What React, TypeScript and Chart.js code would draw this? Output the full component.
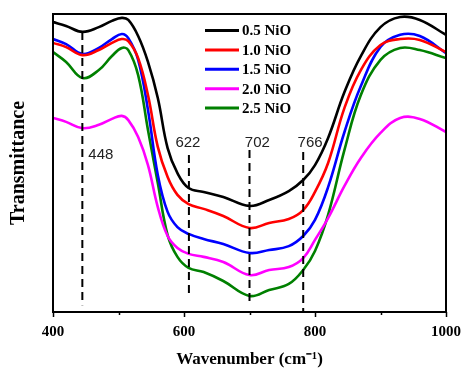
import { useEffect, useRef } from "react";
import { Chart, registerables } from "chart.js";

Chart.register(...registerables);

// ---- data ----
const wavenumbers = [400, 420, 445, 470, 490, 505, 515, 530, 545, 560, 575, 590, 607, 630, 660, 700, 730, 760, 782, 800, 820, 845, 870, 900, 930, 960, 1000];
const seriesLabels = ["0.5 NiO", "1.0 NiO", "1.5 NiO", "2.0 NiO", "2.5 NiO"];
const seriesColors = ["#000000", "#ff0000", "#0000ff", "#ff00ff", "#008000"];
const t05 = [97.3, 96.0, 94.0, 95.6, 97.7, 98.7, 98.0, 92.6, 83.9, 71.8, 55.0, 46.6, 41.6, 40.3, 38.6, 35.6, 37.6, 40.6, 44.3, 49.3, 58.4, 73.8, 85.9, 95.6, 99.0, 98.0, 93.0];
const t10 = [90.3, 88.9, 86.2, 87.9, 90.3, 91.6, 90.9, 85.2, 72.8, 55.4, 45.3, 39.3, 36.2, 34.6, 32.2, 28.2, 29.9, 31.2, 34.2, 40.3, 50.0, 68.5, 81.2, 89.6, 91.6, 91.3, 87.2];
const t15 = [91.6, 89.9, 86.6, 88.6, 91.6, 93.3, 91.9, 84.6, 67.8, 46.0, 33.6, 28.5, 26.2, 24.5, 22.8, 19.8, 20.8, 22.1, 25.5, 30.9, 41.9, 60.4, 75.8, 88.9, 93.0, 92.6, 86.9];
const t20 = [65.1, 63.8, 61.7, 62.8, 64.8, 65.8, 64.4, 58.7, 49.3, 35.2, 25.5, 21.5, 19.5, 18.5, 16.8, 12.4, 14.1, 15.1, 18.1, 24.2, 31.5, 42.3, 51.7, 60.1, 65.1, 64.8, 60.4];
const t25 = [87.2, 83.9, 78.5, 81.2, 85.9, 88.6, 87.9, 79.5, 61.1, 43.3, 25.8, 18.5, 14.8, 13.4, 10.4, 5.4, 7.4, 9.4, 14.1, 20.5, 32.6, 54.4, 72.8, 84.6, 88.6, 87.9, 85.2];
const seriesValues = [t05, t10, t15, t20, t25];

const peakPositions = [444.8, 607.5, 700, 782];
const peakTop = [94.0, 52.7, 54.4, 53.7];
const peakBottom = [2.3, 5.7, 2.3, 0.3];
const peakLabels = ["448", "622", "702", "766"];
const peakLabelX = [473, 606, 712, 792.5];
const peakLabelY = [52.7, 56.7, 56.7, 56.7];

const xMin = 400;
const xMax = 1000;
const xMajorStep = 200;
const xMinorStep = 100;

const SERIF = "'Liberation Serif', 'Times New Roman', serif";
const SANS = "'Liberation Sans', Arial, sans-serif";

const framePlugin = {
  id: "frameTicks",
  afterDraw(chart: any) {
    const { ctx, chartArea } = chart;
    const xs = chart.scales.x;
    ctx.save();
    ctx.strokeStyle = "#000";
    ctx.lineWidth = 2;
    ctx.strokeRect(chartArea.left, chartArea.top, chartArea.right - chartArea.left, chartArea.bottom - chartArea.top);
    ctx.lineWidth = 1.5;
    for (let v = xMin; v <= xMax; v += xMinorStep) {
      const px = Math.round(xs.getPixelForValue(v)) + 0.5;
      const len = v % xMajorStep === 0 ? 5 : 3;
      ctx.beginPath();
      ctx.moveTo(px, chartArea.bottom);
      ctx.lineTo(px, chartArea.bottom + len);
      ctx.stroke();
    }
    ctx.restore();
  },
};

const annotationPlugin = {
  id: "peakLabels",
  afterDatasetsDraw(chart: any) {
    const { ctx } = chart;
    const xs = chart.scales.x;
    const ys = chart.scales.y;
    ctx.save();
    ctx.fillStyle = "#222";
    ctx.font = `15px ${SANS}`;
    ctx.textAlign = "center";
    ctx.textBaseline = "middle";
    peakLabels.forEach((t, i) => {
      ctx.fillText(t, xs.getPixelForValue(peakLabelX[i]), ys.getPixelForValue(peakLabelY[i]));
    });
    ctx.restore();
  },
};

const legendPlugin = {
  id: "customLegend",
  afterDraw(chart: any) {
    const { ctx } = chart;
    ctx.save();
    ctx.font = `bold 15px ${SERIF}`;
    ctx.textAlign = "left";
    ctx.textBaseline = "middle";
    seriesLabels.forEach((label, i) => {
      const y = 30.5 + i * 19.4;
      ctx.strokeStyle = seriesColors[i];
      ctx.lineWidth = 3;
      ctx.beginPath();
      ctx.moveTo(205, y);
      ctx.lineTo(239, y);
      ctx.stroke();
      ctx.fillStyle = "#000";
      ctx.fillText(label, 242, y + 1);
    });
    ctx.restore();
  },
};

export default function App() {
  const ref = useRef<HTMLCanvasElement | null>(null);
  useEffect(() => {
    if (!ref.current) return;
    const curveSets = seriesValues.map((vals, i) => ({
      label: seriesLabels[i],
      data: wavenumbers.map((w, j) => ({ x: w, y: vals[j] })),
      borderColor: seriesColors[i],
      backgroundColor: seriesColors[i],
      borderWidth: 2.6,
      pointRadius: 0,
      tension: 0.4,
      fill: false,
    }));
    const dashSets = peakPositions.map((p, i) => ({
      label: "peak " + peakLabels[i],
      data: [
        { x: p, y: peakTop[i] },
        { x: p, y: peakBottom[i] },
      ],
      borderColor: "#000",
      borderWidth: 2,
      borderDash: [8, 5],
      pointRadius: 0,
      fill: false,
    }));
    const chart = new Chart(ref.current, {
      type: "line",
      data: { datasets: [...dashSets, ...curveSets] as any },
      options: {
        animation: false,
        responsive: false,
        layout: { padding: { top: 14, right: 17, left: 0, bottom: 0 } },
        plugins: { legend: { display: false }, tooltip: { enabled: false } },
        scales: {
          x: {
            type: "linear",
            min: xMin,
            max: xMax,
            grid: { display: false, drawTicks: false },
            border: { display: false },
            ticks: {
              stepSize: xMajorStep,
              color: "#000",
              font: { family: SERIF, size: 15, weight: "bold" },
              padding: 11,
              maxRotation: 0,
              callback: (v: any) => String(v),
            },
            title: {
              display: true,
              text: "Wavenumber (cm\u207B\u00B9)",
              color: "#000",
              font: { family: SERIF, size: 17, weight: "bold" },
              padding: { top: 0, bottom: 0 },
            },
            afterFit(scale: any) {
              scale.height = 58;
            },
          },
          y: {
            type: "linear",
            min: 0,
            max: 100,
            grid: { display: false, drawTicks: false },
            border: { display: false },
            ticks: { display: false },
            title: {
              display: true,
              text: "Transmittance",
              color: "#000",
              font: { family: SERIF, size: 20, weight: "bold" },
              padding: { top: 7, bottom: 0 },
            },
            afterFit(scale: any) {
              scale.width = 53;
            },
          },
        },
      } as any,
      plugins: [framePlugin, annotationPlugin, legendPlugin],
    });
    return () => chart.destroy();
  }, []);
  return (
    <div style={{ position: "fixed", left: 0, top: 0, width: 472, height: 370, background: "#fff" }}>
      <canvas ref={ref} width={472} height={370} style={{ display: "block" }} />
    </div>
  );
}
